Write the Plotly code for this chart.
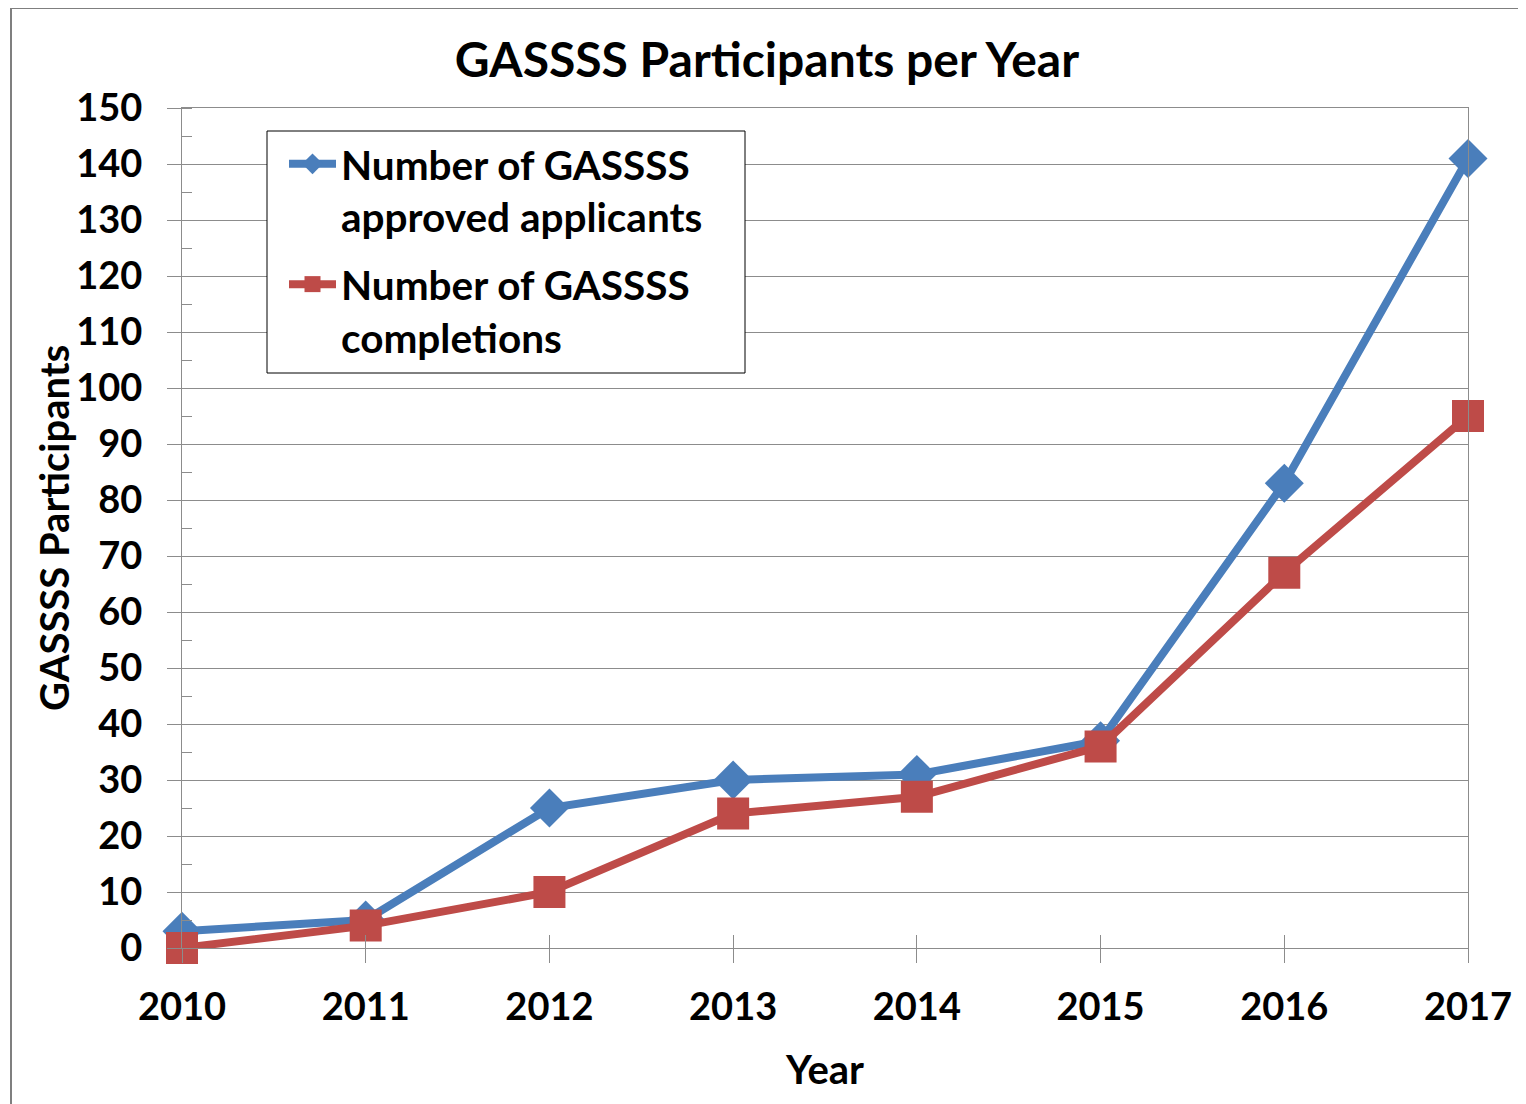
import plotly.graph_objects as go

years = [2010, 2011, 2012, 2013, 2014, 2015, 2016, 2017]
approved = [3, 5, 25, 30, 31, 37, 83, 141]
completions = [0, 4, 10, 24, 27, 36, 67, 95]

title_text = "GASSSS Participants per Year"
y_title = "GASSSS Participants"
x_title = "Year"
name_approved = "<b>Number of GASSSS<br>approved applicants</b>"
name_completions = "<b>Number of GASSSS<br>completions</b>"

BLUE = "#4A7EBB"
RED = "#BE4B48"
FONT = "Lato"
GRID = "#8C8C8C"

W, H = 1518, 1096
OFF = 8  # page offset of the plot div
L, T = 174, 100
R = W - (1468 - OFF)
B = H - (948 - OFF)
PW = W - L - R
PH = H - T - B


def px_x(x):
    return (x - OFF - L) / PW


def px_y(y):
    return 1 - (y - OFF - T) / PH


fig = go.Figure()
fig.add_trace(go.Scatter(
    x=years, y=approved, mode="lines+markers", name=name_approved, legendgroup="a",
    line=dict(color=BLUE, width=8),
    marker=dict(symbol="diamond", size=30, color=BLUE),
    cliponaxis=False,
))
fig.add_trace(go.Scatter(
    x=years, y=completions, mode="lines+markers", name=name_completions, legendgroup="b",
    line=dict(color=RED, width=8),
    marker=dict(symbol="square", size=32, color=RED),
    cliponaxis=False,
))
# invisible trace on overlaid axis to produce crossing ticks
fig.add_trace(go.Scatter(x=years, y=completions, xaxis="x2", mode="none",
                         showlegend=False, hoverinfo="skip"))

fig.update_layout(
    width=W, height=H,
    margin=dict(l=L, r=R, t=T, b=B),
    paper_bgcolor="white", plot_bgcolor="white",
    font=dict(family=FONT, color="black"),
    title=dict(text="<b>" + title_text + "</b>", x=0.5, xref="container",
               y=1 - 52 / H, yref="container", yanchor="middle",
               font=dict(size=48, family=FONT, color="black")),
    showlegend=True,
    legend=dict(x=px_x(284), y=px_y(131), xanchor="left", yanchor="top",
                bgcolor="rgba(0,0,0,0)", borderwidth=0, valign="top",
                font=dict(size=40.5, family=FONT, color="black"),
                itemwidth=47, tracegroupgap=12),
    xaxis=dict(range=[2010, 2017], tickmode="array", tickvals=years,
               ticktext=["<b>%d</b>" % y for y in years],
               tickfont=dict(size=38, family=FONT, color="black"),
               ticks="outside", ticklen=14, tickcolor=GRID, ticklabelstandoff=11,
               showgrid=False, showline=True, linecolor=GRID, linewidth=1,
               mirror=True, zeroline=False,
               title=dict(text="<b>" + x_title + "</b>", font=dict(size=40, family=FONT), standoff=29)),
    xaxis2=dict(range=[2010, 2017], overlaying="x", tickmode="array",
                tickvals=years, showticklabels=False, ticks="inside", ticklen=13,
                tickcolor=GRID, showgrid=False, showline=False, side="bottom",
                zeroline=False),
    yaxis=dict(range=[0, 150], dtick=10, tick0=0,
               tickfont=dict(size=38, family=FONT, color="black"),
               tickprefix="<b>", ticksuffix="</b>",
               ticks="outside", ticklen=14, tickcolor=GRID, ticklabelstandoff=17,
               showgrid=True, gridcolor=GRID, gridwidth=1,
               showline=True, linecolor=GRID, linewidth=1, mirror=True,
               zeroline=False,
               minor=dict(dtick=5, ticks="inside", ticklen=10, tickcolor=GRID, showgrid=False)),
)

# y-axis title
fig.add_annotation(text="<b>" + y_title + "</b>", xref="paper", yref="paper",
                   x=px_x(54), y=0.5, xanchor="center", yanchor="middle",
                   textangle=-90, showarrow=False,
                   font=dict(size=40, family=FONT, color="black"))

# legend box
fig.add_shape(type="rect", xref="paper", yref="paper",
              x0=px_x(267), x1=px_x(745), y0=px_y(373), y1=px_y(131),
              line=dict(color="black", width=1), fillcolor="white", layer="above")

# outer chart border
fig.add_shape(type="rect", xref="paper", yref="paper",
              x0=px_x(11), x1=1.2, y0=-0.3, y1=px_y(8),
              line=dict(color="#7F7F7F", width=2), fillcolor="rgba(0,0,0,0)", layer="below")

fig.write_html("out.html")
